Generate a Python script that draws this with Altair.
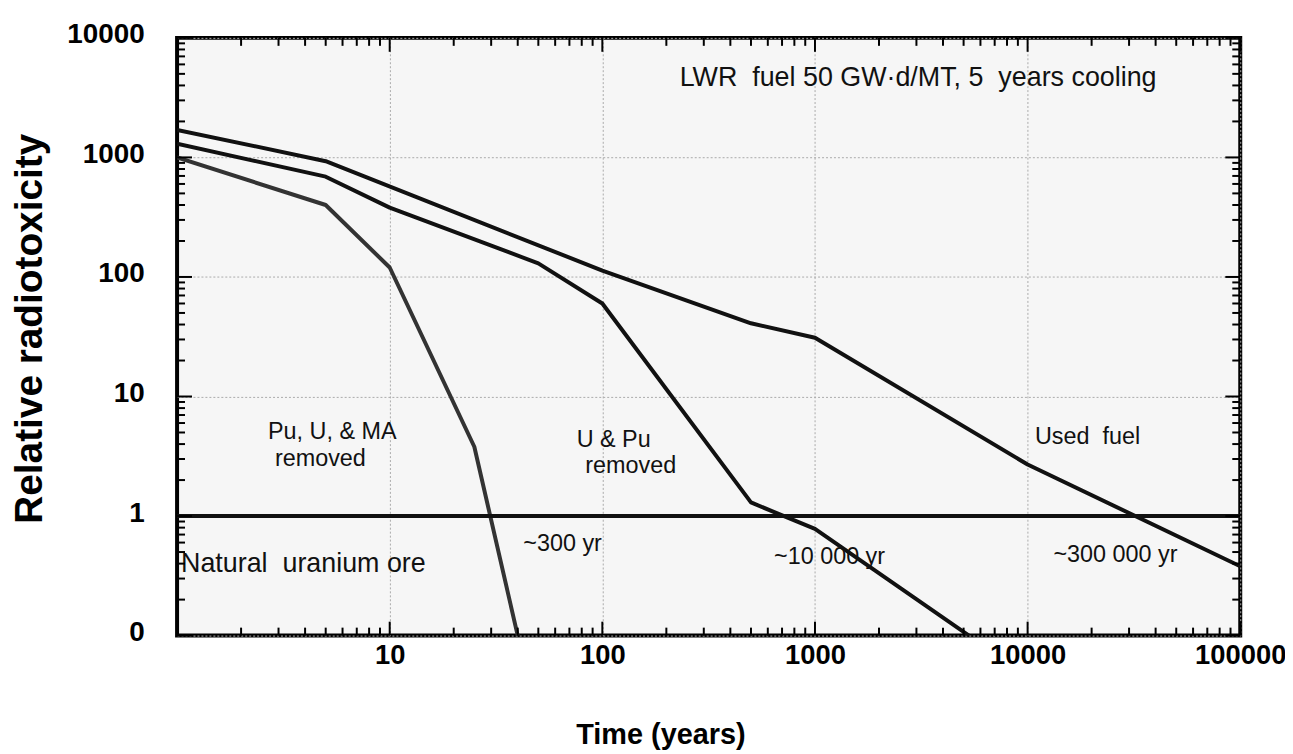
import altair as alt
import pandas as pd

# ---- data ----
used_t = [1, 5, 100, 500, 1000, 10000, 100000]
used_v = [1700, 930, 113, 41, 31, 2.7, 0.38]

upu_t = [1, 5, 10, 50, 100, 500, 1000, 5300]
upu_v = [1300, 690, 380, 130, 60, 1.3, 0.78, 0.1]

puma_t = [1, 5, 10, 25, 40]
puma_v = [1000, 400, 120, 3.8, 0.1]

ore_t = [1, 100000]
ore_v = [1, 1]

x_major = [1, 10, 100, 1000, 10000, 100000]
x_labels = [10, 100, 1000, 10000, 100000]
x_minor = [m * d for d in [1, 10, 100, 1000, 10000] for m in range(2, 10)]
y_major = [0.1, 1, 10, 100, 1000, 10000]
y_minor = [m * d for d in [0.1, 1, 10, 100, 1000] for m in range(2, 10)]

ann_text = ["Pu, U, & MA", "removed", "~300 yr", "U & Pu", "removed",
            "~10 000 yr", "~300 000 yr", "Used\u00a0 fuel"]
ann_t = [5.37, 4.72, 65, 113, 136, 1171, 25880, 19140]
ann_v = [5.07, 2.97, 0.58, 4.35, 2.6, 0.454, 0.472, 4.61]

ore_text = ["Natural\u00a0 uranium ore"]
ore_text_t = [1.044]
ore_text_v = [0.397]

top_text = ["LWR\u00a0 fuel 50 GW·d/MT, 5\u00a0 years cooling"]
top_text_t = [3054]
top_text_v = [4645]

series_names = ["Used fuel", "U & Pu removed", "Pu, U, & MA removed", "Natural uranium ore"]
series_colors = ["#111111", "#111111", "#333333", "#111111"]
series_widths = [4, 4, 3.5, 3]

# ---- tables ----
rows = []
for name, ts, vs in zip(series_names, [used_t, upu_t, puma_t, ore_t], [used_v, upu_v, puma_v, ore_v]):
    for t, v in zip(ts, vs):
        rows.append({"series": name, "t": t, "v": v})
lines_df = pd.DataFrame(rows)

W, H = 1069, 601
FONT = "Liberation Sans"

xs = alt.Scale(type="log", domain=[1, 100000], nice=False)
ys = alt.Scale(type="log", domain=[0.1, 10000], nice=False)

x_axis = alt.Axis(
    values=x_labels, format="d", grid=True, gridDash=[2, 2], gridColor="#aaaaaa", gridWidth=1,
    ticks=False, tickSize=0, domain=False, labelFlush=False,
    labelFont=FONT, labelFontSize=27.5, labelFontWeight="bold", labelColor="#000000", labelPadding=6,
    title="Time (years)", titleFont=FONT, titleFontSize=29, titleFontWeight="bold", titleColor="#000000",
    titleX=486, titleY=108, titleAlign="center", titleBaseline="alphabetic",
)
y_axis = alt.Axis(
    values=y_major, labelExpr="datum.value < 0.5 ? '0' : format(datum.value, 'd')",
    grid=True, gridDash=[2, 2], gridColor="#aaaaaa", gridWidth=1,
    ticks=False, tickSize=0, domain=False, labelFlush=False,
    labelFont=FONT, labelFontSize=28, labelFontWeight="bold", labelColor="#000000",
    labelPadding=33, labelOffset=-3,
    title="Relative  radiotoxicity", titleFont=FONT, titleFontSize=39, titleFontWeight="bold",
    titleColor="#000000", titleX=-136, titleY=292, titleAlign="center", titleBaseline="alphabetic",
    titleAngle=270,
)

X = alt.X("t:Q", scale=xs, axis=x_axis)
Y = alt.Y("v:Q", scale=ys, axis=y_axis)

lines = alt.Chart(lines_df).mark_line(strokeJoin="round", clip=True).encode(
    x=X,
    y=Y,
    color=alt.Color("series:N", scale=alt.Scale(domain=series_names, range=series_colors), legend=None),
    strokeWidth=alt.StrokeWidth("series:N", scale=alt.Scale(domain=series_names, range=series_widths), legend=None),
    detail="series:N",
    order="t:Q",
)


def xticks(values, length, side):
    df = pd.DataFrame({"t": values})
    if side == "bottom":
        yy, yy2 = H, H - length
    else:
        yy, yy2 = 0, length
    return alt.Chart(df).mark_rule(color="#000000", strokeWidth=2).encode(
        x=X, y=alt.value(yy), y2=alt.value(yy2),
    )


def yticks(values, length, side):
    df = pd.DataFrame({"v": values})
    if side == "left":
        xx, xx2 = 0, length
    else:
        xx, xx2 = W, W - length
    return alt.Chart(df).mark_rule(color="#000000", strokeWidth=2).encode(
        y=Y, x=alt.value(xx), x2=alt.value(xx2),
    )


tick_layers = [
    xticks(x_minor, 8, "bottom"), xticks(x_major, 14, "bottom"),
    xticks(x_minor, 8, "top"), xticks(x_major, 14, "top"),
    yticks(y_minor, 8, "left"), yticks(y_major, 15, "left"),
    yticks(y_minor, 8, "right"), yticks(y_major, 15, "right"),
]

ann = alt.Chart(pd.DataFrame({"text": ann_text, "t": ann_t, "v": ann_v})).mark_text(
    font=FONT, fontSize=23.5, color="#111111", align="center", baseline="middle"
).encode(x=X, y=Y, text="text:N")

ore_lbl = alt.Chart(pd.DataFrame({"text": ore_text, "t": ore_text_t, "v": ore_text_v})).mark_text(
    font=FONT, fontSize=27, color="#111111", align="left", baseline="middle"
).encode(x=X, y=Y, text="text:N")

top_lbl = alt.Chart(pd.DataFrame({"text": top_text, "t": top_text_t, "v": top_text_v})).mark_text(
    font=FONT, fontSize=27, color="#111111", align="center", baseline="middle"
).encode(x=X, y=Y, text="text:N")

chart = alt.layer(lines, ann, ore_lbl, top_lbl, *tick_layers).properties(
    width=W, height=H,
    padding={"left": 170, "top": 28, "right": 45, "bottom": 114},
    autosize=alt.AutoSizeParams(type="none"),
    background="#ffffff",
).configure_view(
    stroke="#000000", strokeWidth=4, fill="#f6f6f6"
)

chart.save("out.html", embed_options={"renderer": "svg", "actions": False})
